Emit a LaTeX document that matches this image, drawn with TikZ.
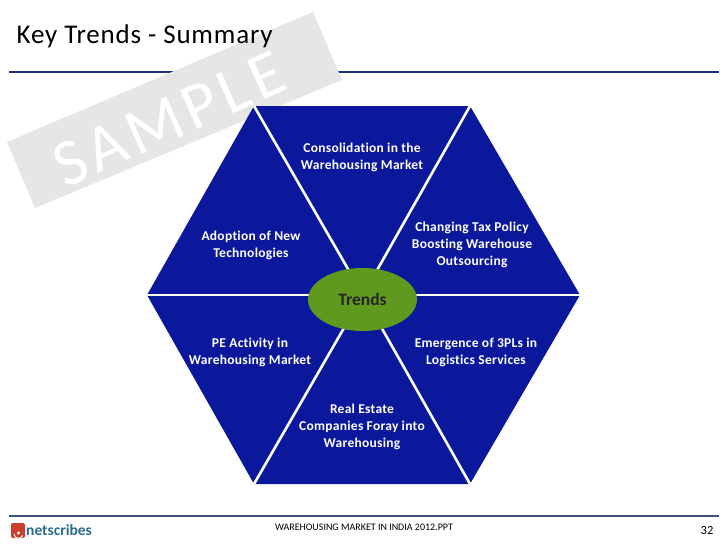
\documentclass[tikz,border=0pt]{standalone}
\usepackage{fontspec}
\usetikzlibrary{shapes.geometric}
\setmainfont{Carlito}[Ligatures=NoCommon]
\definecolor{hexblue}{HTML}{0B189C}
\definecolor{rulenavy}{HTML}{1F2F78}
\definecolor{footnavy}{HTML}{3D4F7C}
\definecolor{wm}{HTML}{E6E6E6}
\definecolor{ellgreen}{HTML}{5F9A1E}
\definecolor{logoblue}{HTML}{2B6C8C}
\definecolor{logored}{HTML}{C8402E}
\tikzset{
  lbl/.style={text=white,font=\fontsize{13.5}{17}\selectfont\bfseries\addfontfeature{LetterSpace=2},align=center,inner sep=0pt},
  spoke/.style={draw=white,line width=2.6pt},
}
\begin{document}
\begin{tikzpicture}[x=1pt,y=-1pt]
\useasboundingbox (0,0) rectangle (728,546);
\fill[white] (0,0) rectangle (728,546);
% header rule
\draw[rulenavy,line width=1.3pt] (9,72) -- (719,72);
% watermark
\fill[wm] (7,142) -- (313,12) -- (342,80) -- (35,208) -- cycle;
\node[text=white,font=\fontsize{66}{66}\selectfont\addfontfeature{LetterSpace=8},rotate=24,inner sep=0pt,anchor=center] (sample) at (169,119) {SAMPLE};
% title
\node[anchor=west,inner sep=0pt,font=\fontsize{27}{30}\selectfont\addfontfeature{LetterSpace=3}] (title) at (16.5,36) {Key Trends - Summary};
% hexagon
\coordinate (L) at (147,295);
\coordinate (R) at (580,295);
\coordinate (TL) at (254,106);
\coordinate (TR) at (470,106);
\coordinate (BL) at (254,484);
\coordinate (BR) at (470,484);
\coordinate (C) at (363,295);
\fill[hexblue] (L) -- (TL) -- (TR) -- (R) -- (BR) -- (BL) -- cycle;
\draw[spoke] (L) -- (C);
\draw[spoke] (R) -- (C);
\draw[spoke] (TL) -- (C);
\draw[spoke] (TR) -- (C);
\draw[spoke] (BL) -- (C);
\draw[spoke] (BR) -- (C);
\node[ellipse,fill=ellgreen,minimum width=109pt,minimum height=63pt,inner sep=0pt,font=\fontsize{17.5}{20}\selectfont\bfseries,text=black!85] (trends) at (362.5,299.5) {Trends};
% labels
\node[lbl] (n1) at (362,157) {Consolidation in the\\Warehousing Market};
\node[lbl] (n2) at (472,245) {Changing Tax Policy\\Boosting Warehouse\\Outsourcing};
\node[lbl] (n3) at (476,352) {Emergence of 3PLs in\\Logistics Services};
\node[lbl] (n4) at (362,427) {Real Estate\\Companies Foray into\\Warehousing};
\node[lbl] (n5) at (250,352) {PE Activity in\\Warehousing Market};
\node[lbl] (n6) at (251,245) {Adoption of New\\Technologies};
% footer
\draw[footnavy,line width=1.6pt] (9,516) -- (719,516);
\node[inner sep=0pt,font=\fontsize{10}{12}\selectfont] (foot) at (364,527.5) {WAREHOUSING MARKET IN INDIA 2012.PPT};
\node[inner sep=0pt,font=\fontsize{12.5}{13}\selectfont] (page) at (707,530) {32};
% logo
\fill[logored,rounded corners=2pt] (11,523) rectangle (25,538);
\draw[white,line width=1pt] (14,534) arc[start angle=180,end angle=20,radius=4.4];
\fill[white] (18.5,533) circle (1.6);
\node[anchor=west,inner sep=0pt,text=logoblue,font=\fontsize{15.5}{16}\selectfont\bfseries] (logo) at (26,530) {netscribes};
\end{tikzpicture}
\end{document}
